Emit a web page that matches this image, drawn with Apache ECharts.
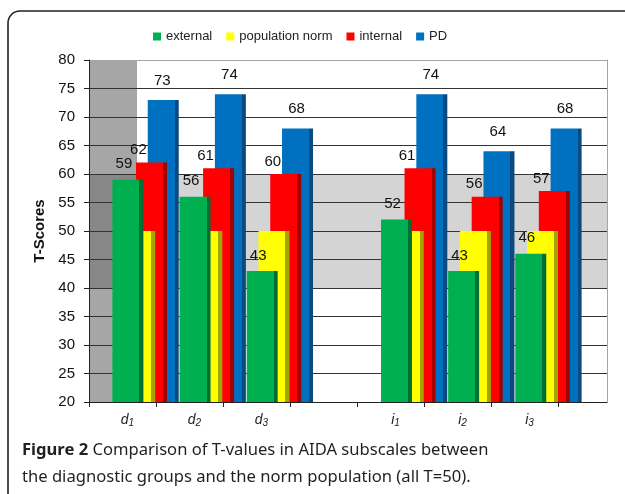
<!DOCTYPE html>
<html><head><meta charset="utf-8">
<script src="https://cdn.jsdelivr.net/npm/echarts@6/dist/echarts.min.js"></script>
<style>html,body{margin:0;padding:0;background:#fff}#c{width:625px;height:494px}</style>
</head><body><div id="c"></div>
<script>
// ---- data ----
const categories = ['d1', 'd2', 'd3', '', 'i1', 'i2', 'i3'];
const seriesNames = ['external', 'population norm', 'internal', 'PD'];
const external = [59, 56, 43, null, 52, 43, 46];
const populationNorm = [50, 50, 50, null, 50, 50, 50];
const internal = [62, 61, 60, null, 61, 56, 57];
const pd = [73, 74, 68, null, 74, 64, 68];
const yMin = 20, yMax = 80, yStep = 5;
const normBand = [40, 60];
const captionBold = 'Figure 2';
const captionLine1 = ' Comparison of T-values in AIDA subscales between';
const captionLine2 = 'the diagnostic groups and the norm population (all T=50).';

// ---- styling ----
const FONT = 'Liberation Sans, Arial, sans-serif';
const colors = ['#00b050', '#ffff00', '#ff0000', '#0070c0'];
const darks = ['#006f35', '#a5a500', '#a50000', '#0a4a80'];
const plotW = 518;      // background grid width (px units on helper axis)
const wallW = 48;       // side wall width
const tickStep = 67;
const tickVals = [];
for (let k = 0; k <= categories.length; k++) tickVals.push(k * tickStep);

const chart = echarts.init(document.getElementById('c'), null, {renderer: 'canvas'});

function grad(c, d) {
  return {type: 'linear', x: 0, y: 0, x2: 1, y2: 0,
    colorStops: [{offset: 0, color: c}, {offset: 0.87, color: c}, {offset: 0.87, color: d}, {offset: 1, color: d}]};
}
function barSeries(i, data, z, offset, showLabel) {
  return {
    type: 'bar', name: seriesNames[i], data: data, xAxisIndex: 1, yAxisIndex: 2,
    barWidth: 31, barGap: '-62%', z: z,
    itemStyle: {color: grad(colors[i], darks[i])},
    label: {show: showLabel, position: 'top', offset: offset, fontSize: 15, color: '#111', fontFamily: FONT},
    emphasis: {disabled: true}
  };
}

const splitColors = [];
for (let v = yMin; v <= yMax; v += yStep) splitColors.push(v === yMax ? '#a6a6a6' : '#333');

const option = {
  animation: false,
  backgroundColor: '#fff',
  legend: {
    top: 25, left: 148, itemGap: 14, itemWidth: 8, itemHeight: 8, icon: 'rect',
    textStyle: {fontSize: 13, color: '#222', fontFamily: FONT},
    data: seriesNames.map((n, i) => ({name: n, itemStyle: {color: colors[i]}}))
  },
  grid: [
    {left: 89, right: 18, top: 60, bottom: 92},
    {left: 112, right: 43, top: 60, bottom: 92},
    {left: 94, right: 62, top: 60, bottom: 92}
  ],
  xAxis: [
    {gridIndex: 0, type: 'value', min: 0, max: plotW, interval: tickStep, z: 2,
      axisLine: {show: true, lineStyle: {color: '#222'}},
      axisTick: {show: true, length: 5, customValues: tickVals, lineStyle: {color: '#222'}},
      axisLabel: {show: false}, splitLine: {show: false}},
    {gridIndex: 1, type: 'category', data: categories, show: false},
    {gridIndex: 2, type: 'category', data: categories,
      axisLine: {show: false}, axisTick: {show: false}, splitLine: {show: false},
      axisLabel: {margin: 10, interval: 0,
        formatter: v => v ? '{m|' + v[0] + '}{s|' + v.slice(1) + '}' : '',
        rich: {
          m: {fontSize: 14, fontStyle: 'italic', color: '#222', fontFamily: FONT},
          s: {fontSize: 10, fontStyle: 'italic', color: '#222', fontFamily: FONT, padding: [6, 0, 0, 0]}
        }}}
  ],
  yAxis: [
    {gridIndex: 0, type: 'value', min: yMin, max: yMax, interval: yStep, z: 2,
      axisLine: {show: true, lineStyle: {color: '#222'}},
      axisTick: {show: true, length: 5, lineStyle: {color: '#222'}},
      axisLabel: {fontSize: 15, color: '#111', margin: 14, fontFamily: FONT},
      splitLine: {show: true, lineStyle: {color: splitColors, width: 1}},
      name: 'T-Scores', nameLocation: 'middle', nameGap: 37,
      nameTextStyle: {fontWeight: 'bold', fontSize: 15, color: '#111', fontFamily: FONT}},
    {gridIndex: 0, type: 'value', position: 'right', min: yMin, max: yMax, z: 2,
      axisLine: {show: true, lineStyle: {color: '#a6a6a6'}},
      axisTick: {show: false}, axisLabel: {show: false}, splitLine: {show: false}},
    {gridIndex: 1, type: 'value', min: yMin, max: yMax, show: false},
    {gridIndex: 2, type: 'value', show: false}
  ],
  series: [
    {type: 'line', xAxisIndex: 0, yAxisIndex: 0, data: [], z: 1, silent: true,
      markArea: {silent: true, label: {show: false}, data: [
        [{xAxis: 0, yAxis: yMin, itemStyle: {color: '#a6a6a6'}}, {xAxis: wallW, yAxis: yMax}],
        [{xAxis: 0, yAxis: normBand[0], itemStyle: {color: '#878787'}}, {xAxis: wallW, yAxis: normBand[1]}],
        [{xAxis: wallW, yAxis: normBand[0], itemStyle: {color: '#d4d4d4'}}, {xAxis: plotW, yAxis: normBand[1]}]
      ]}},
    barSeries(0, external, 6, [-4, -3], true),
    barSeries(1, populationNorm, 5, [0, 0], false),
    barSeries(2, internal, 4, [-13, 0], true),
    barSeries(3, pd, 3, [-1, -7], true)
  ],
  graphic: [
    {type: 'rect', silent: true, z: 0, shape: {x: 8, y: 11, width: 660, height: 540, r: 12},
      style: {fill: 'none', stroke: '#231f20', lineWidth: 1.6}},
    {type: 'text', silent: true, left: 22, top: 442,
      style: {text: '{b|' + captionBold + '}{n|' + captionLine1 + '}',
        rich: {
          b: {fontWeight: 'bold', fontSize: 16.6, fontFamily: 'Noto Sans', fill: '#231f20'},
          n: {fontSize: 16.6, fontFamily: 'Noto Sans', fill: '#231f20'}
        }}},
    {type: 'text', silent: true, left: 22, top: 469,
      style: {text: captionLine2, fontSize: 16.6, fontFamily: 'Noto Sans', fill: '#231f20'}}
  ]
};
chart.setOption(option);
</script></body></html>
